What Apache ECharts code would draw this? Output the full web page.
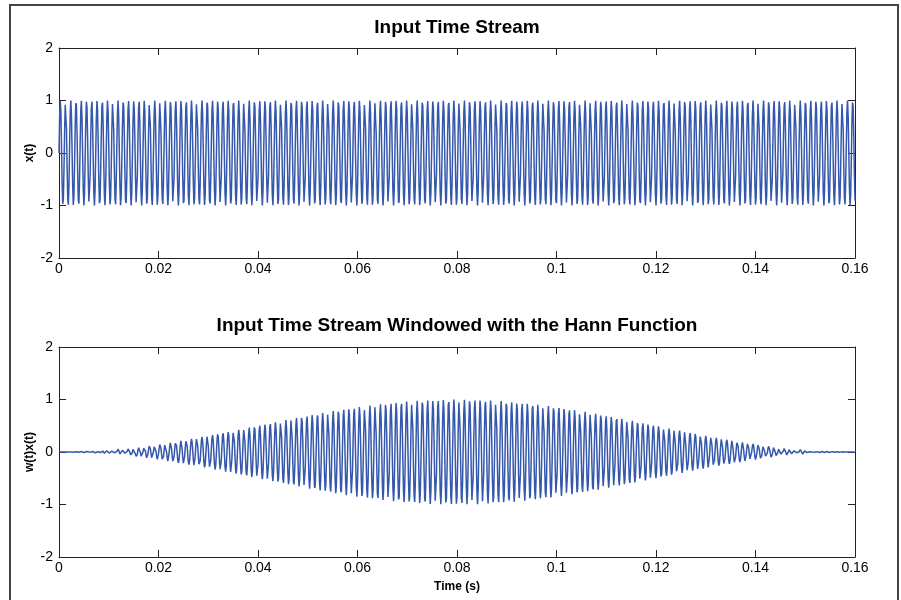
<!DOCTYPE html>
<html lang="en">
<head>
    <meta charset="utf-8">
    <title>Hann window</title>
    <script src="https://cdn.jsdelivr.net/npm/echarts@6/dist/echarts.min.js"></script>
    <style>
        html, body { margin: 0; padding: 0; background: #fff; }
        #chart { width: 901px; height: 600px; }
    </style>
</head>
<body>
<div id="chart"></div>
<script type="text/javascript">
    // signal parameters
    var signalFreq = 948;      // Hz, ~151 cycles in 0.16 s
    var sampleRate = 8000;     // Hz
    var duration = 0.16;       // s
    var xTicks = [0, 0.02, 0.04, 0.06, 0.08, 0.1, 0.12, 0.14, 0.16];
    var yTicks = [-2, -1, 0, 1, 2];

    var nSamples = Math.round(duration * sampleRate) + 1;
    var rawData = [];
    var windowedData = [];
    for (var n = 0; n < nSamples; n++) {
        var t = n / sampleRate;
        var x = Math.sin(2 * Math.PI * signalFreq * t);
        var w = 0.5 * (1 - Math.cos(2 * Math.PI * n / (nSamples - 1)));
        rawData.push([t, x]);
        windowedData.push([t, w * x]);
    }

    var lineColor = '#3558ad';
    var font = 'Liberation Sans, Arial, sans-serif';

    function xAx(grid, name, top) {
        return {
            type: 'value', gridIndex: grid, min: xTicks[0], max: xTicks[xTicks.length - 1], interval: 0.02,
            position: top ? 'top' : 'bottom',
            name: top ? '' : name, nameLocation: 'middle', nameGap: 24,
            nameTextStyle: {color: '#000', fontFamily: font, fontSize: 12, fontWeight: 'bold'},
            axisLine: {show: true, onZero: false, lineStyle: {color: '#222', width: 1}},
            axisTick: {show: true, inside: true, length: 7, lineStyle: {color: '#222'}},
            axisLabel: {show: !top, color: '#000', fontFamily: font, fontSize: 14, margin: 4},
            splitLine: {show: false}
        };
    }

    function yAx(grid, name, right) {
        return {
            type: 'value', gridIndex: grid, min: yTicks[0], max: yTicks[yTicks.length - 1], interval: 1,
            position: right ? 'right' : 'left',
            name: right ? '' : name, nameLocation: 'middle', nameGap: 23, nameMoveOverlap: false,
            nameTextStyle: {color: '#000', fontFamily: font, fontSize: 12, fontWeight: 'bold'},
            axisLine: {show: true, onZero: false, lineStyle: {color: '#222', width: 1}},
            axisTick: {show: true, inside: true, length: 7, lineStyle: {color: '#222'}},
            axisLabel: {show: !right, color: '#000', fontFamily: font, fontSize: 14, margin: 6},
            splitLine: {show: false}
        };
    }

    var myChart = echarts.init(document.getElementById('chart'), null, {renderer: 'canvas'});
    myChart.setOption({
        animation: false,
        backgroundColor: '#fff',
        grid: [
            {left: 59, top: 48, width: 796, height: 210},
            {left: 59, top: 347, width: 796, height: 210}
        ],
        xAxis: [xAx(0, ''), xAx(0, '', true), xAx(1, 'Time (s)'), xAx(1, '', true)],
        yAxis: [yAx(0, 'x(t)'), yAx(0, '', true), yAx(1, 'w(t)x(t)'), yAx(1, '', true)],
        graphic: [
            {type: 'rect', shape: {x: 10, y: 5, width: 888, height: 610},
                style: {fill: 'none', stroke: '#444', lineWidth: 2}, silent: true},
            {type: 'text', x: 457, y: 28, style: {text: 'Input Time Stream', fontFamily: font,
                fontSize: 19, fontWeight: 'bold', fill: '#000', align: 'center', verticalAlign: 'middle'}},
            {type: 'text', x: 457, y: 326, style: {text: 'Input Time Stream Windowed with the Hann Function', fontFamily: font,
                fontSize: 19, fontWeight: 'bold', fill: '#000', align: 'center', verticalAlign: 'middle'}}
        ],
        series: [
            {type: 'line', xAxisIndex: 0, yAxisIndex: 0, data: rawData, showSymbol: false, sampling: null,
                lineStyle: {color: lineColor, width: 1.5}, itemStyle: {color: lineColor}},
            {type: 'line', xAxisIndex: 2, yAxisIndex: 2, data: windowedData, showSymbol: false,
                lineStyle: {color: lineColor, width: 1.5}, itemStyle: {color: lineColor}}
        ]
    });
</script>
</body>
</html>
